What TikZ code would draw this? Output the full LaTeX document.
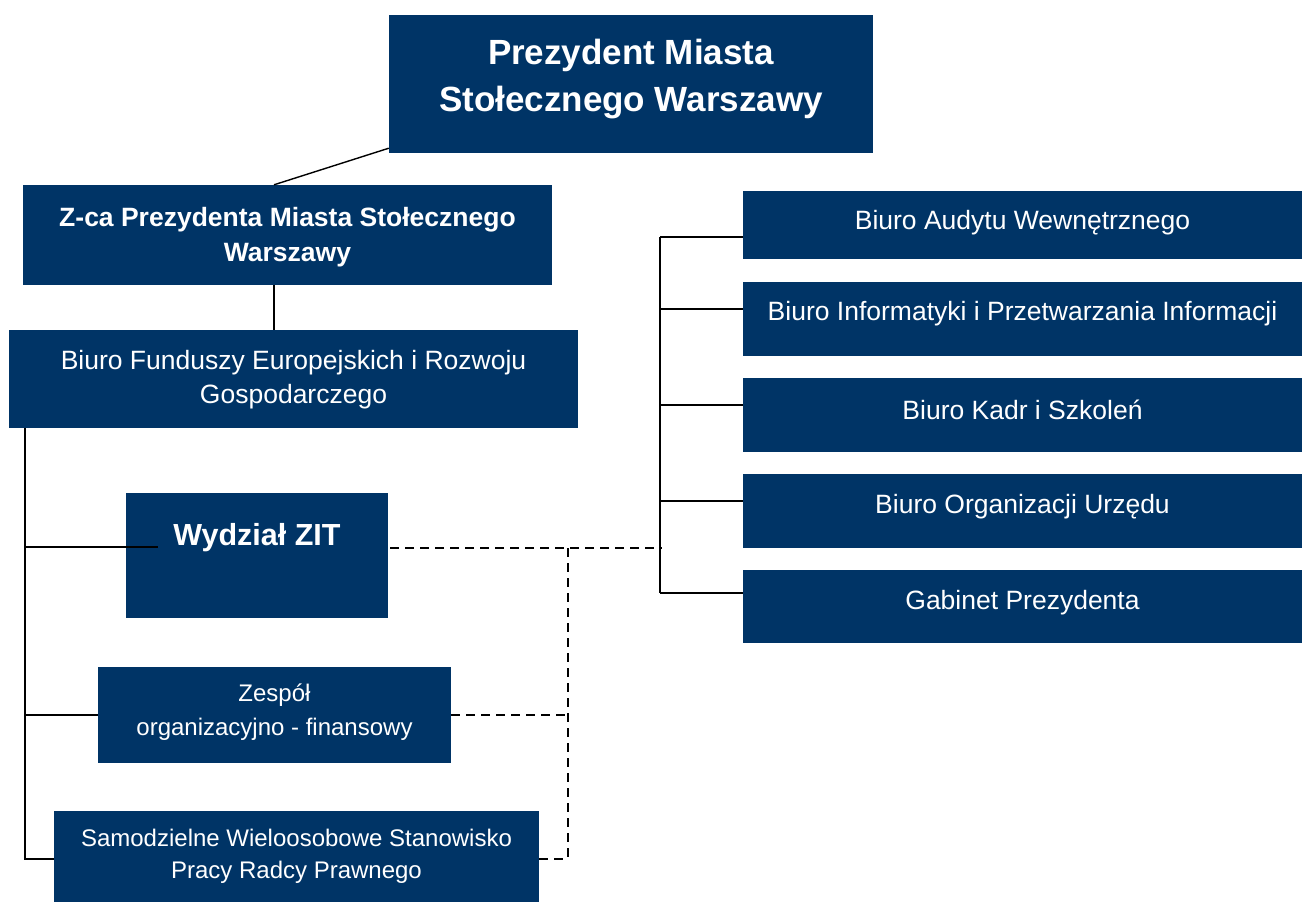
\documentclass[tikz,border=0pt]{standalone}
\usepackage{fontspec}
\setmainfont{Liberation Sans}
\usetikzlibrary{calc}
\definecolor{navy}{RGB}{0,52,102}
\begin{document}
\begin{tikzpicture}[x=1pt,y=-1pt,
  box/.style={fill=navy,draw=none,inner sep=0pt,rectangle},
  txt/.style={text=white,align=center,inner sep=0pt,yshift=-3pt},
  conn/.style={line width=1.4pt,black},
  dconn/.style={line width=1.4pt,black,dash pattern=on 9pt off 6pt}]
\useasboundingbox (0,0) rectangle (1302,902);
% boxes
\node[box,minimum width=484,minimum height=138] (P) at (631,84) {};
\node[box,minimum width=529,minimum height=100] (Z) at (287.5,235) {};
\node[box,minimum width=569,minimum height=98] (F) at (293.5,379) {};
\node[box,minimum width=262,minimum height=125] (W) at (257,555.5) {};
\node[box,minimum width=353,minimum height=96] (E) at (274.5,715) {};
\node[box,minimum width=485,minimum height=91] (S) at (296.5,856.5) {};
\node[box,minimum width=559,minimum height=68] (A) at (1022.5,225) {};
\node[box,minimum width=559,minimum height=74] (I) at (1022.5,319) {};
\node[box,minimum width=559,minimum height=74] (K) at (1022.5,415) {};
\node[box,minimum width=559,minimum height=74] (O) at (1022.5,511) {};
\node[box,minimum width=559,minimum height=73] (G) at (1022.5,606.5) {};
% texts
\node[txt,font=\bfseries\fontsize{35}{47}\selectfont] (tP) at (631,76.5) {Prezydent Miasta\\Stołecznego Warszawy};
\node[txt,font=\bfseries\fontsize{26.5}{35}\selectfont] (tZ) at (287.5,234.5) {Z-ca Prezydenta Miasta Stołecznego\\Warszawy};
\node[txt,font=\fontsize{26.5}{34}\selectfont] (tF) at (293.5,377) {Biuro Funduszy Europejskich i Rozwoju\\Gospodarczego};
\node[txt,font=\bfseries\fontsize{30.5}{32}\selectfont] (tW) at (257,535) {Wydział ZIT};
\node[txt,font=\fontsize{24}{34}\selectfont] (tE) at (274.5,709) {Zespół\\organizacyjno - finansowy};
\node[txt,font=\fontsize{24}{32}\selectfont] (tS) at (296.5,853) {Samodzielne Wieloosobowe Stanowisko\\Pracy Radcy Prawnego};
\node[txt,font=\fontsize{26.5}{30}\selectfont] (tA) at (1022.5,220) {Biuro Audytu Wewnętrznego};
\node[txt,font=\fontsize{26.5}{30}\selectfont] (tI) at (1022.5,311) {Biuro Informatyki i Przetwarzania Informacji};
\node[txt,font=\fontsize{26.5}{30}\selectfont] (tK) at (1022.5,407) {Biuro Kadr i Szkoleń};
\node[txt,font=\fontsize{26.5}{30}\selectfont] (tO) at (1022.5,504) {Biuro Organizacji Urzędu};
\node[txt,font=\fontsize{26.5}{30}\selectfont] (tG) at (1022.5,600) {Gabinet Prezydenta};
% coordinates
\coordinate (Lt) at (25,428);
\coordinate (Wl) at (158,547);
\coordinate (Rt) at (660,237);
\coordinate (Rb) at (660,593);
\coordinate (Dv) at (568,548);
\coordinate (De) at (662,548);
% solid connectors
\draw[conn] ($(P.south west)+(0,-5)$) -- ([xshift=-13.5]Z.north);
\draw[conn] ([xshift=-13.5]Z.south) -- ([xshift=-19.5]F.north);
\draw[conn] (Lt) |- ([yshift=-2.5]S.west);
\draw[conn] (Lt |- Wl) -- (Wl);
\draw[conn] (Lt |- E.west) -- (E.west);
\draw[conn] (Rt) -- (Rb);
\draw[conn] (Rt) -- (Rt -| A.west);
\draw[conn] ($(Rt |- I.west)+(0,-10)$) -- ($(I.west)+(0,-10)$);
\draw[conn] ($(Rt |- K.west)+(0,-10)$) -- ($(K.west)+(0,-10)$);
\draw[conn] ($(Rt |- O.west)+(0,-10)$) -- ($(O.west)+(0,-10)$);
\draw[conn] (Rb) -- (Rb -| G.west);
% dashed connectors
\draw[dconn] ([xshift=2]W.east |- Dv) -- (De);
\draw[dconn] (Dv) -- (Dv |- S.west);
\draw[dconn] (E.east) -- (E.east -| Dv);
\draw[dconn] ([yshift=-2.5]S.east) -- ([yshift=-2.5]S.east -| Dv);
\end{tikzpicture}
\end{document}
